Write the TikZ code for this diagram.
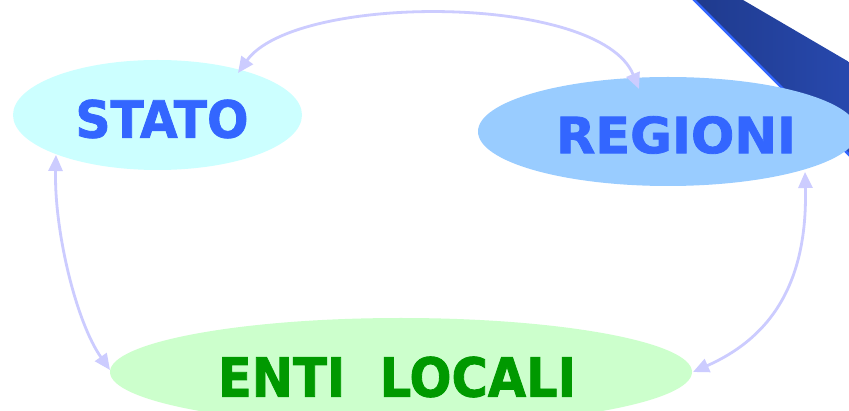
\documentclass[tikz,border=0pt]{standalone}
\usepackage{fontspec}
\usepackage{graphicx}
\setmainfont{DejaVu Sans}
\newfontfamily\heavyfont[FakeBold=1.6]{DejaVu Sans Bold}
\usetikzlibrary{shapes.geometric,arrows.meta,calc}
\definecolor{statofill}{HTML}{CCFFFF}
\definecolor{regfill}{HTML}{99CCFF}
\definecolor{entifill}{HTML}{CCFFCC}
\definecolor{bluetext}{HTML}{3366FF}
\definecolor{greentext}{HTML}{009900}
\definecolor{arrowcol}{HTML}{CCCCFF}
\definecolor{banddark}{HTML}{1F3A8C}
\definecolor{bandlight}{HTML}{2A4DB8}
\definecolor{bandedge}{HTML}{3366FF}
\tikzset{
  blob/.style={ellipse, draw=none, inner sep=0pt},
  lbl/.style={inner sep=0pt, font=\heavyfont},
  link/.style={draw=arrowcol, line width=2.8pt,
    {Triangle[length=16pt,width=14pt]}-{Triangle[length=16pt,width=14pt]}}
}
\begin{document}
\begin{tikzpicture}[x=1pt,y=-1pt]
\useasboundingbox (0,0) rectangle (849,411);
\clip (0,0) rectangle (849,411);
\fill[white] (0,0) rectangle (849,411);
% diagonal band
\shade[left color=banddark, right color=bandlight]
  (689,-5) -- (734.5,-5) -- (900,91.8) -- (900,205.7) -- cycle;
\draw[bandedge, line width=2.5pt] (689,-5) -- (900,205.7);
% ellipses
\node[blob, fill=statofill, minimum width=289pt, minimum height=110pt] (stato) at (157.5,115) {};
\node[blob, fill=regfill, minimum width=380pt, minimum height=109pt] (regioni) at (668,131.5) {};
\node[blob, fill=entifill, minimum width=582pt, minimum height=108pt] (enti) at (401,372) {};
% labels
\node[lbl, text=bluetext] (tstato) at (162,119) {\resizebox{173pt}{38pt}{STATO}};
\node[lbl, text=bluetext] (tregioni) at (676,135) {\resizebox{240pt}{37pt}{REGIONI}};
\node[lbl, text=greentext] (tenti) at (397,377) {\resizebox{358pt}{40pt}{ENTI~~LOCALI}};
% connectors
\draw[link] ($(stato.center)+(80.5,-42)$) .. controls (295,-7) and (600,-7) .. ($(regioni.center)+(-29,-42.5)$);
\draw[link] ($(stato.center)+(-101.5,40)$) .. controls (54,230) and (76,322) .. ($(enti.center)+(-291,-2)$);
\draw[link] ($(regioni.center)+(137,40.5)$) .. controls (808,290) and (765,340) .. ($(enti.center)+(292,0)$);
\end{tikzpicture}
\end{document}
